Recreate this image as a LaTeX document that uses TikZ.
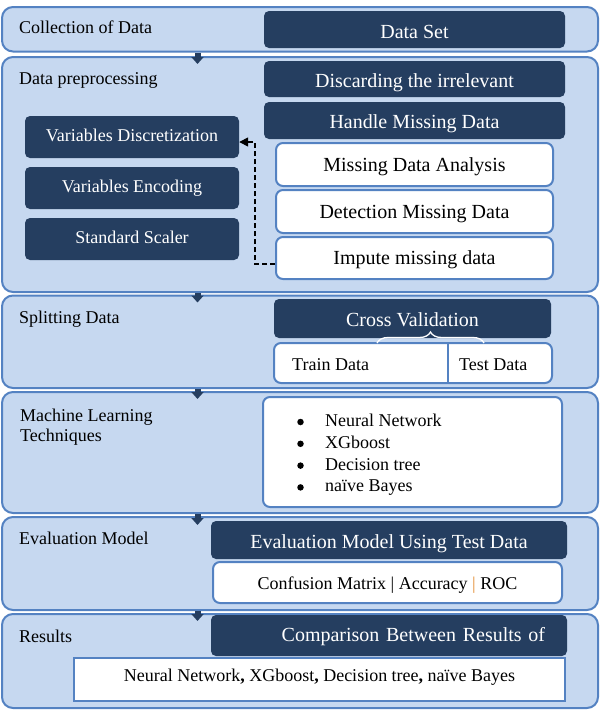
\documentclass[tikz,border=0pt]{standalone}
\usepackage{fontspec}
\setmainfont{Liberation Serif}
\usetikzlibrary{arrows.meta,calc,decorations.pathreplacing}

\definecolor{panelfill}{RGB}{198,216,240}
\definecolor{panelline}{RGB}{84,130,194}
\definecolor{navy}{RGB}{37,62,96}
\definecolor{sepor}{RGB}{228,140,50}

\newcommand{\fsSmall}{\fontsize{18}{21.8}\selectfont}
\newcommand{\fsBig}{\fontsize{20}{24}\selectfont}

\begin{document}
\begin{tikzpicture}[x=1pt,y=-1pt,
  panel/.style={draw=panelline, line width=2pt, fill=panelfill,
    rounded corners=11pt, inner sep=0pt, minimum width=596pt},
  plabel/.style={anchor=base west, inner sep=0pt, font=\fsSmall, align=left},
  darkbox/.style={fill=navy, text=white, rounded corners=5pt, inner sep=0pt,
    font=\fsBig, text height=17pt, text depth=0pt},
  leftbox/.style={fill=navy, text=white, rounded corners=5pt, inner sep=0pt,
    font=\fsSmall, minimum width=214pt, minimum height=42pt,
    text height=8pt, text depth=0pt},
  whitebox/.style={draw=panelline, line width=2pt, fill=white,
    rounded corners=7pt, inner sep=0pt, font=\fsBig,
    text height=13pt, text depth=0pt},
  plain/.style={inner sep=0pt, font=\fsSmall},
  bulletdot/.style={circle, fill=black, inner sep=0pt, minimum size=6.5pt},
  flowarrow/.style={draw=navy, line width=6pt,
    -{Triangle[length=7pt,width=12pt]}},
  dasharrow/.style={draw=black, line width=1.5pt, dash pattern=on 5pt off 3pt,
    -{Triangle[length=9pt,width=9pt]}}
]
\fill[white] (0,0) rectangle (601,710);
\useasboundingbox (0,0) rectangle (601,710);

% ---- stage panels
\node[panel, minimum height=44.5pt] (p1) at (300,29.25) {};
\node[panel, minimum height=235pt]  (p2) at (300,174.5) {};
\node[panel, minimum height=92.5pt] (p3) at (300,341.75) {};
\node[panel, minimum height=121pt]  (p4) at (300,452.5) {};
\node[panel, minimum height=93pt]   (p5) at (300,563.5) {};
\node[panel, minimum height=94pt]   (p6) at (300,661) {};

\node[plabel] (l1) at (19,33)    {Collection of Data};
\node[plabel] (l2) at (19,84.5)  {Data preprocessing};
\node[plabel] (l3) at (19,323.3) {Splitting Data};
\node[plabel] (l4) at (20,421)   {Machine Learning};
\node[plabel] (l4b) at (20,441.7) {Techniques};
\node[plabel] (l5) at (19,544.3) {Evaluation Model};
\node[plabel] (l6) at (19,642.7) {Results};

% ---- collection
\node[darkbox, minimum width=301pt, minimum height=37pt] (ds) at (414.5,29.5) {Data Set};

% ---- preprocessing
\node[darkbox, minimum width=301pt, minimum height=36pt] (dis) at (414.5,79) {Discarding the irrelevant};
\node[darkbox, minimum width=301pt, minimum height=37pt, text height=15pt] (hmd) at (414.5,120.5) {Handle Missing Data};

\node[leftbox] (vd) at (132,137) {Variables Discretization};
\node[leftbox] (ve) at (132,188) {Variables Encoding};
\node[leftbox] (ss) at (132,239) {Standard Scaler};

\node[whitebox, minimum width=277pt, minimum height=43pt] (mda) at (414.5,164.5) {Missing Data Analysis};
\node[whitebox, minimum width=277pt, minimum height=43pt] (det) at (414.5,211.5) {Detection Missing Data};
\node[whitebox, minimum width=277pt, minimum height=42pt] (imp) at (414.5,258) {Impute missing data};

\draw[dasharrow] ([yshift=-6pt]imp.west) -- ++(-20,0) |- ([yshift=-5pt]vd.east);

% ---- splitting
\node[darkbox, minimum width=277pt, minimum height=39pt, text height=15pt] (cv) at (412.5,318.5) {Cross Validation};
\node[whitebox, minimum width=278pt, minimum height=40pt] (tt) at (413,363) {};
\coordinate (divx) at (448,0);
\draw[panelline, line width=2pt] (tt.north -| divx) -- (tt.south -| divx);
\node[plain, anchor=base west] (trn) at (292,370) {Train Data};
\node[plain, anchor=base west] (tst) at (459,370) {Test Data};
\draw[white, line width=1.3pt, decorate, decoration={brace, amplitude=11pt}]
  (377,343) -- (484,343);

% ---- machine learning
\node[whitebox, minimum width=299pt, minimum height=110pt] (ml) at (412.5,452) {};
\foreach \t [count=\i] in {Neural Network, XGboost, Decision tree, naïve Bayes} {
  \node[bulletdot] (mb\i) at (300.5,{422+21.8*(\i-1)}) {};
  \node[plain, anchor=base west] (mt\i) at (325,{426.5+21.8*(\i-1)}) {\t};
}

% ---- evaluation
\node[darkbox, minimum width=356pt, minimum height=38pt] (ev) at (389,540) {Evaluation Model Using Test Data};
\node[whitebox, minimum width=349pt, minimum height=41pt, font=\fsSmall, text height=13.6pt] (cm) at (387.5,582.5)
  {Confusion Matrix | Accuracy {\color{sepor}|} ROC};

% ---- results
\node[darkbox, minimum height=41pt, text width=312pt, align=right, inner xsep=22pt, text height=12.5pt] (cmp) at (389,635.5)
  {Comparison Between Results of};
\node[draw=panelline, line width=1.5pt, fill=white, inner sep=0pt, font=\fsSmall,
  minimum width=491pt, minimum height=43pt, text height=4.4pt, text depth=0pt] (res) at (319.5,679.5)
  {Neural Network\textbf{,} XGboost\textbf{,} Decision tree\textbf{,} naïve Bayes};

% ---- flow between stages
\coordinate (ax) at (197.5,0);
\draw[flowarrow] (p1.south -| ax) -- ($(p2.north -| ax)+(0,8)$);
\draw[flowarrow] (p2.south -| ax) -- ($(p3.north -| ax)+(0,8)$);
\draw[flowarrow] (p3.south -| ax) -- ($(p4.north -| ax)+(0,8)$);
\draw[flowarrow] (p4.south -| ax) -- ($(p5.north -| ax)+(0,9)$);
\draw[flowarrow] (p5.south -| ax) -- ($(p6.north -| ax)+(0,8)$);
\end{tikzpicture}
\end{document}
